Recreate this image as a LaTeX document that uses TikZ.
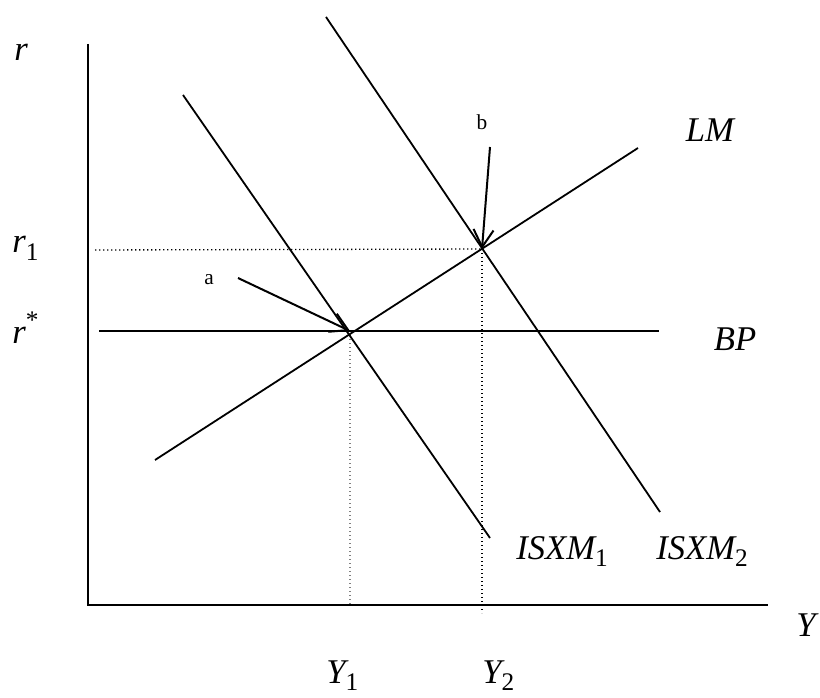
\documentclass[tikz,border=0pt]{standalone}
\usepackage{fontspec}
\setmainfont{Liberation Serif}
\usetikzlibrary{arrows.meta}
\newcommand\lsub[1]{\raisebox{-0.5ex}{\fontsize{19}{19}\selectfont #1}}
\newcommand\lsup[1]{\raisebox{0.9ex}{\fontsize{19}{19}\selectfont #1}}
\begin{document}
\begin{tikzpicture}[x=0.75pt,y=-0.75pt,
  curve/.style={line width=1.35pt},
  axisline/.style={line width=1.35pt},
  guide/.style={line width=1pt,dotted},
  lbl/.style={font=\fontsize{26}{28}\selectfont\itshape,inner sep=0pt},
  small/.style={font=\fontsize{16}{18}\selectfont,inner sep=0pt},
  pointer/.style={line width=1.5pt,-{Straight Barb[length=13pt,width=15pt,line width=1.5pt]}}]
\useasboundingbox (0,0) rectangle (820,698);
% axes
\coordinate (O) at (88,605);
\coordinate (Ytop) at (88,44);
\coordinate (Xend) at (768,605);
\draw[axisline] (Ytop) -- (O) -- (Xend);
% intersections
\coordinate (A) at (350,331);
\coordinate (B) at (482,249);
% guides
\coordinate (R1s) at (95,250);
\coordinate (Y1b) at (350,605);
\coordinate (Y2b) at (482,613);
\draw[guide] (R1s) -- (B);
\draw[guide,gray] (A) -- (Y1b);
\draw[guide] (B) -- (Y2b);
% BP
\coordinate (BPs) at (99,331);
\coordinate (BPe) at (659,331);
\draw[curve] (BPs) -- (BPe);
% LM
\coordinate (LMs) at (155,460);
\coordinate (LMe) at (638,148);
\draw[curve] (LMs) -- (LMe);
% ISXM1, ISXM2
\coordinate (I1s) at (183,95);
\coordinate (I1e) at (490,538);
\draw[curve] (I1s) -- (I1e);
\coordinate (I2s) at (326,17);
\coordinate (I2e) at (660,512);
\draw[curve] (I2s) -- (I2e);
% pointers
\node[small] (la) at (209,280) {a};
\node[small] (lb) at (482,122) {b};
\coordinate (as) at (238,278);
\coordinate (bs) at (490,147);
\draw[pointer] (as) -- (A);
\draw[pointer] (bs) -- (B);
% labels
\node[lbl] (lr) at (21,52) {r};
\node[lbl,anchor=base west] (lr1) at (12,253) {r\lsub{\upshape 1}};
\node[lbl,anchor=base west] (lrs) at (12,343) {r\lsup{\upshape *}};
\node[lbl] (lLM) at (710,130) {LM};
\node[lbl] (lBP) at (735,339) {BP};
\node[lbl,anchor=base west] (lI1) at (516,559) {ISXM\lsub{\upshape 1}};
\node[lbl,anchor=base west] (lI2) at (656,559) {ISXM\lsub{\upshape 2}};
\node[lbl,anchor=base west] (lY) at (796,636) {Y};
\node[lbl,anchor=base west] (lY1) at (326,683) {Y\lsub{\upshape 1}};
\node[lbl,anchor=base west] (lY2) at (482,683) {Y\lsub{\upshape 2}};
\end{tikzpicture}
\end{document}
